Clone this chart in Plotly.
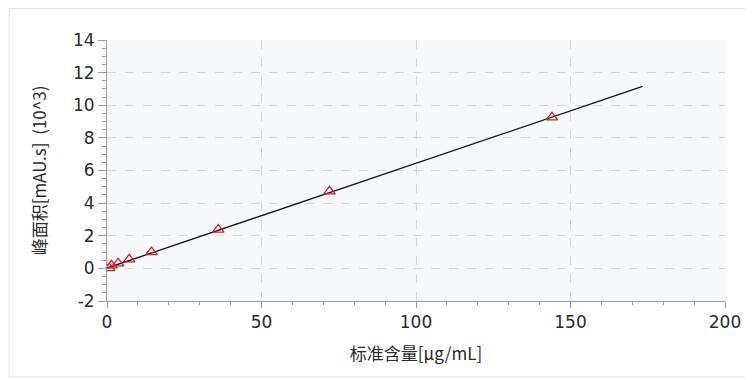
import plotly.graph_objects as go

# Calibration standards
conc = [0.72, 1.44, 3.6, 7.2, 14.4, 36.0, 72.0, 144.0]
area = [0.02, 0.18, 0.31, 0.55, 1.0, 2.38, 4.72, 9.26]

# Fitted line endpoints
fit_x = [0.0, 173.3]
fit_y = [0.02, 11.15]

x_ticks = [0, 50, 100, 150, 200]
y_ticks = [-2, 0, 2, 4, 6, 8, 10, 12, 14]

W, H = 745, 372
L, T, PW, PH = 99, 32, 622, 261

fig = go.Figure()
fig.add_trace(go.Scatter(x=fit_x, y=fit_y, mode="lines",
                         line=dict(color="#111111", width=1.3),
                         showlegend=False, hoverinfo="skip"))
fig.add_trace(go.Scatter(x=conc, y=area, mode="markers",
                         marker=dict(symbol="triangle-up-open", size=10,
                                     color="#cc2030", line=dict(width=1.3)),
                         showlegend=False))

tick_font = dict(family="DejaVu Sans, Liberation Sans, sans-serif", size=17, color="#2a2a2a")
title_font = dict(family="Noto Sans CJK SC, DejaVu Sans, sans-serif", size=17, color="#2a2a2a")

fig.update_layout(
    width=W, height=H,
    margin=dict(l=L, r=W - L - PW, t=T, b=H - T - PH),
    paper_bgcolor="white",
    plot_bgcolor="#f7f8fa",
    xaxis=dict(
        range=[0, 200], tickvals=x_ticks, ticktext=[str(v) for v in x_ticks],
        showgrid=True, gridcolor="#d6d6d6", griddash="dash", gridwidth=1,
        zeroline=False, showline=True, linecolor="#9a9a9a", linewidth=1,
        ticks="outside", ticklen=6, tickcolor="#9a9a9a",
        minor=dict(dtick=10, ticks="outside", ticklen=3, tickcolor="#9a9a9a", showgrid=False),
        title=dict(text="标准含量[µg/mL]", font=title_font, standoff=16),
        tickfont=tick_font,
    ),
    yaxis=dict(
        range=[-2, 14], tickvals=y_ticks, ticktext=[str(v) for v in y_ticks],
        showgrid=True, gridcolor="#d6d6d6", griddash="dash", gridwidth=1,
        zeroline=False, showline=True, linecolor="#9a9a9a", linewidth=1,
        ticks="outside", ticklen=8, tickcolor="#9a9a9a",
        minor=dict(dtick=0.5, ticks="outside", ticklen=4, tickcolor="#9a9a9a", showgrid=False),
        title=dict(text="峰面积[mAU.s]  (10^3)", font=title_font, standoff=22),
        tickfont=tick_font,
    ),
    shapes=[dict(type="rect", xref="paper", yref="paper",
                 x0=(0.5 - L) / PW, x1=(W + 5 - L) / PW,
                 y0=(T + PH - 369) / PH, y1=(T + PH - 0.5) / PH,
                 line=dict(color="#e2e2e2", width=1), layer="below")],
)

fig.write_html("out.html")
